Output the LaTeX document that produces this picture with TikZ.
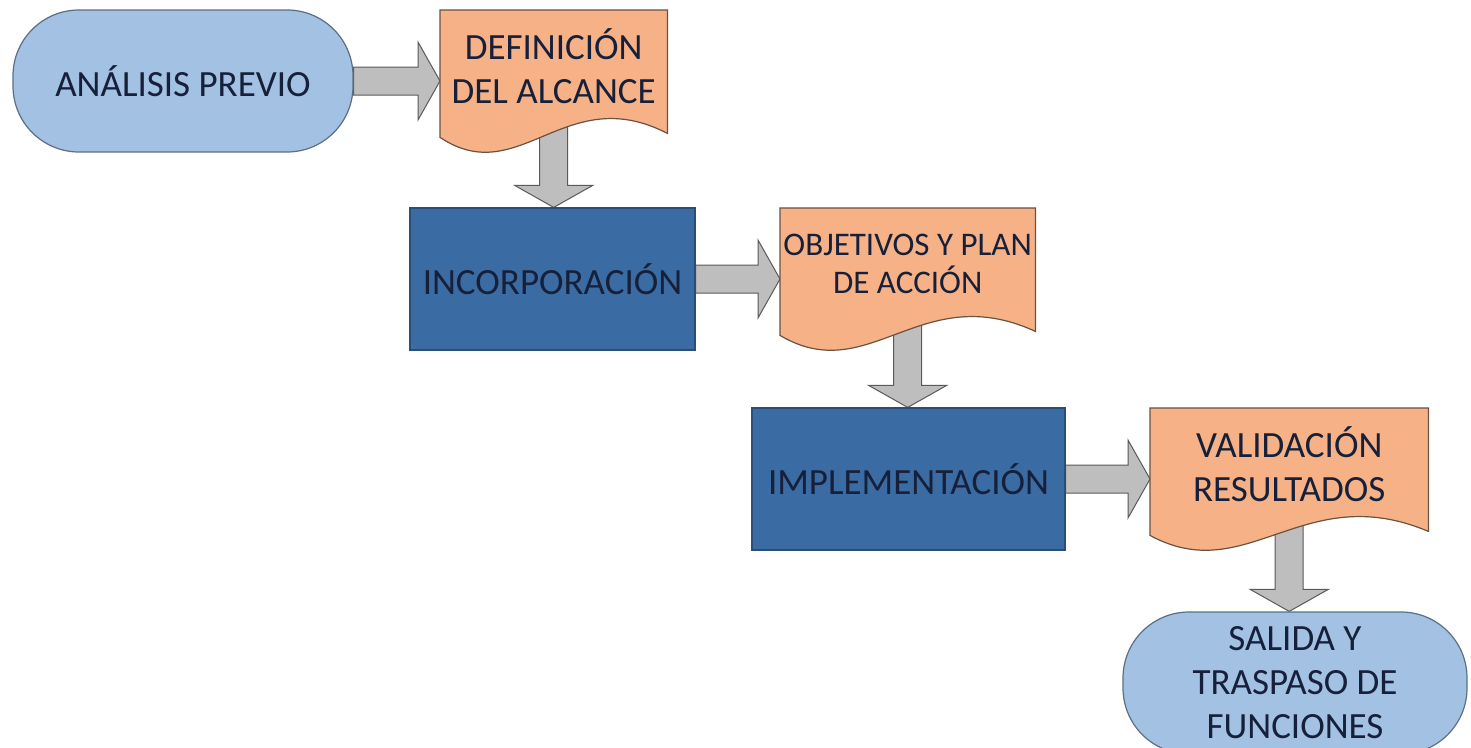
\documentclass[tikz,border=0pt]{standalone}
\usepackage{fontspec}
\setmainfont{Carlito}
\usetikzlibrary{calc}
\pgfdeclarelayer{arrowlayer}
\pgfdeclarelayer{shapelayer}
\pgfsetlayers{arrowlayer,shapelayer,main}
\definecolor{termfill}{HTML}{A3C1E2}
\definecolor{termline}{HTML}{5C6F86}
\definecolor{docfill}{HTML}{F6B286}
\definecolor{docline}{HTML}{6B5140}
\definecolor{procfill}{HTML}{3A6CA3}
\definecolor{procline}{HTML}{2B4E78}
\definecolor{arrfill}{HTML}{BEBEBE}
\definecolor{arrline}{HTML}{5A5A5A}
\definecolor{txt}{HTML}{16203A}
\tikzset{
  lbl/.style={text=txt, inner sep=0pt, align=center, font=\fontsize{37}{44}\selectfont},
  terminal/.style={lbl, draw=termline, fill=termfill, line width=1.2pt, rounded corners=66pt},
  procbox/.style={lbl, draw=procline, fill=procfill, line width=1.2pt},
  docnode/.style={lbl, anchor=north west, minimum height=112},
  docstyle/.style={draw=docline, fill=docfill, line width=1.2pt},
  hblock/.style={fill=arrfill, draw=arrline, line width=1pt,
    to path={let \p1=(\tikztostart), \p2=(\tikztotarget) in
      (\x1,\y1+14pt) -- (\x2-22pt,\y1+14pt) -- (\x2-22pt,\y1+39pt) -- (\x2,\y1)
      -- (\x2-22pt,\y1-39pt) -- (\x2-22pt,\y1-14pt) -- (\x1,\y1-14pt) -- cycle}},
  vblock/.style={fill=arrfill, draw=arrline, line width=1pt,
    to path={let \p1=(\tikztostart), \p2=(\tikztotarget) in
      (\x1-14pt,\y1) -- (\x1-14pt,\y2+22pt) -- (\x1-39pt,\y2+22pt) -- (\x1,\y2)
      -- (\x1+39pt,\y2+22pt) -- (\x1+14pt,\y2+22pt) -- (\x1+14pt,\y1) -- cycle}}
}
\newcommand{\docshape}[1]{%
  \begin{pgfonlayer}{shapelayer}
  \path[docstyle] let \p1=(#1.north west), \p2=(#1.south east), \n1={\x2-\x1} in
    (\x1,\y1) -- (\x2,\y1) -- (\x2,\y2-11pt)
    .. controls (\x1+0.55*\n1,\y2+42pt) and (\x1+0.35*\n1,\y2-68pt) .. (\x1,\y2-15pt) -- cycle;
  \end{pgfonlayer}}
\begin{document}
\begin{tikzpicture}[x=1pt,y=-1pt]
\useasboundingbox (0,0) rectangle (1471,747);
\begin{pgfonlayer}{arrowlayer}
\fill[white] (0,0) rectangle (1471,747);
\end{pgfonlayer}
\clip (0,0) rectangle (1471,747);

\node[terminal, minimum width=340, minimum height=142] (t1) at (183,81) {ANÁLISIS PREVIO};
\node[docnode, minimum width=227] (d1) at (440,10) {DEFINICIÓN\\DEL ALCANCE};
\node[procbox, minimum width=285, minimum height=142] (inc) at (552.5,279) {INCORPORACIÓN};
\node[docnode, minimum width=255, font=\fontsize{33}{38}\selectfont] (d2) at (780,208) {OBJETIVOS Y PLAN\\DE ACCIÓN};
\node[procbox, minimum width=313, minimum height=142] (imp) at (908.5,479) {IMPLEMENTACIÓN};
\node[docnode, minimum width=278] (d3) at (1150,408) {VALIDACIÓN\\RESULTADOS};
\node[terminal, minimum width=344, minimum height=142] (t2) at (1295,683) {SALIDA Y\\TRASPASO DE\\FUNCIONES};

\docshape{d1}
\docshape{d2}
\docshape{d3}

\begin{pgfonlayer}{arrowlayer}
\draw[hblock] (t1.east) to (d1.west);
\draw[vblock] (d1.south) to (inc.north);
\draw[hblock] (inc.east) to (d2.west);
\draw[vblock] (d2.south) to (imp.north);
\draw[hblock] (imp.east) to (d3.west);
\draw[vblock] (d3.south) to (t2.north);
\end{pgfonlayer}
\end{tikzpicture}
\end{document}
